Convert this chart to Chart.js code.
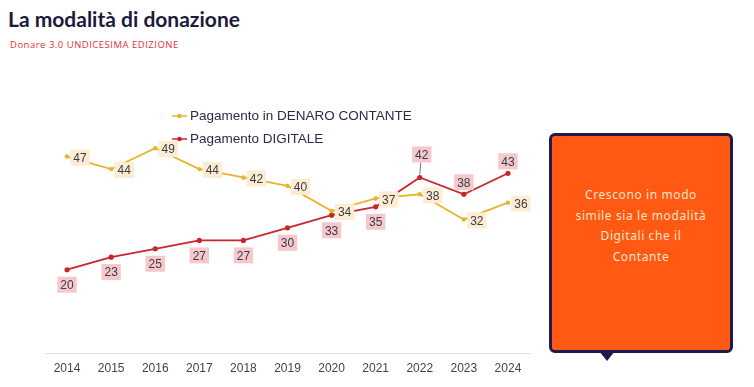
<html>
<head>
<meta charset="utf-8">
<script src="https://cdn.jsdelivr.net/npm/chart.js@4.4.1/dist/chart.umd.min.js"></script>
<style>
  body { margin: 0; background: #fff; width: 754px; height: 387px; overflow: hidden; position: relative; font-family: "Liberation Sans", Arial, sans-serif; }
  #title { position: absolute; left: 8px; top: 6px; font-family: Lato, "Open Sans", sans-serif; font-weight: 700; font-size: 21px; color: #1c1a3d; }
  #subtitle { position: absolute; left: 10px; top: 38px; font-family: "Open Sans", sans-serif; font-size: 9.5px; letter-spacing: 0.5px; color: #e0323c; }
  #wrap { position: absolute; left: 0; top: 0; width: 545px; height: 387px; }
  #note { position: absolute; left: 549px; top: 133px; width: 178px; height: 214px; background: #ff5913; border: 3px solid #1e1b4b; border-radius: 6px; }
  #note:after { content: ""; position: absolute; left: 47px; bottom: -11px; width: 0; height: 0; border-left: 8px solid transparent; border-right: 8px solid transparent; border-top: 10px solid #1e1b4b; }
  #note p { margin: 0; position: absolute; left: 0; right: 0; top: 49px; text-align: center; color: #fde3c6; font-family: "Noto Sans", sans-serif; font-size: 12px; line-height: 20.5px; letter-spacing: 0.6px; }
</style>
</head>
<body>
<div id="title">La modalità di donazione</div>
<div id="subtitle">Donare 3.0 UNDICESIMA EDIZIONE</div>
<div id="wrap"><canvas id="myChart"></canvas></div>
<div id="note"><p>Crescono in modo<br>simile sia le modalità<br>Digitali che il<br>Contante</p></div>
<script>
var years = ['2014','2015','2016','2017','2018','2019','2020','2021','2022','2023','2024'];
var contante = [47, 44, 49, 44, 42, 40, 34, 37, 38, 32, 36];
var digitale = [20, 23, 25, 27, 27, 30, 33, 35, 42, 38, 43];

// where each value label goes, relative to its point
var contantePos = ['right','right','right','right','right','right','right','right','right','right','right'];
var digitalePos = ['below','below','below','below','below','below','below','below','above2','above','above'];

var labelPlugin = {
  id: 'valueLabels',
  afterDatasetsDraw: function(chart) {
    var ctx = chart.ctx;
    ctx.save();
    ctx.font = '12px "Liberation Sans", Arial, sans-serif';
    ctx.textAlign = 'center';
    ctx.textBaseline = 'middle';
    chart.data.datasets.forEach(function(ds, di) {
      var meta = chart.getDatasetMeta(di);
      meta.data.forEach(function(pt, i) {
        var pos = ds.labelPos[i];
        var x = pt.x, y = pt.y;
        if (pos == 'right') { x += 13; y += 1; }
        else if (pos == 'below') { y += 15; }
        else if (pos == 'above') { y -= 12; }
        else if (pos == 'above2') {
          y -= 23;
          ctx.strokeStyle = '#777';
          ctx.lineWidth = 1;
          ctx.beginPath(); ctx.moveTo(pt.x, pt.y - 3); ctx.lineTo(x + 1, y + 8); ctx.stroke();
          x += 2;
        }
        var txt = String(ds.data[i]);
        var w = ctx.measureText(txt).width + 6;
        ctx.fillStyle = ds.boxColor;
        ctx.fillRect(x - w / 2, y - 8, w, 16);
        ctx.fillStyle = '#3a3a4a';
        ctx.fillText(txt, x, y + 1);
      });
    });
    ctx.restore();
  }
};

var legendPlugin = {
  id: 'sideLegend',
  afterDraw: function(chart) {
    var ctx = chart.ctx;
    ctx.save();
    ctx.font = '13.5px "Liberation Sans", Arial, sans-serif';
    ctx.textBaseline = 'middle';
    var ys = [116, 139];
    chart.data.datasets.forEach(function(ds, di) {
      var y = ys[di];
      ctx.strokeStyle = ds.borderColor;
      ctx.lineWidth = 1.5;
      ctx.beginPath(); ctx.moveTo(172, y); ctx.lineTo(187, y); ctx.stroke();
      ctx.fillStyle = ds.borderColor;
      ctx.beginPath(); ctx.arc(179.5, y, 2.3, 0, Math.PI * 2); ctx.fill();
      ctx.fillStyle = '#2b2b45';
      ctx.fillText(ds.label, 190, y);
    });
    ctx.restore();
  }
};

var ctx = document.getElementById('myChart').getContext('2d');
new Chart(ctx, {
  type: 'line',
  data: {
    labels: years,
    datasets: [{
      label: 'Pagamento in DENARO CONTANTE',
      data: contante,
      borderColor: '#e9b32c',
      backgroundColor: '#e9b32c',
      borderWidth: 1.8,
      pointRadius: 2.2,
      pointBorderWidth: 0,
      tension: 0,
      boxColor: '#fbecd2',
      labelPos: contantePos
    }, {
      label: 'Pagamento DIGITALE',
      data: digitale,
      borderColor: '#c9262b',
      backgroundColor: '#c9262b',
      borderWidth: 1.8,
      pointRadius: 2.6,
      pointBorderWidth: 0,
      tension: 0,
      boxColor: '#f6c8cc',
      labelPos: digitalePos
    }]
  },
  options: {
    responsive: true,
    maintainAspectRatio: false,
    animation: false,
    layout: { padding: { top: 102, left: 45, right: 15, bottom: 11 } },
    plugins: { legend: { display: false }, tooltip: { enabled: false } },
    scales: {
      y: { display: false, min: 0, max: 60 },
      x: {
        offset: true,
        grid: { display: false },
        border: { display: true, color: '#e2e2e2', width: 1 },
        ticks: { color: '#444', font: { size: 12, family: '"Liberation Sans", Arial, sans-serif' }, padding: 0 }
      }
    }
  },
  plugins: [labelPlugin, legendPlugin]
});
</script>
</body>
</html>
